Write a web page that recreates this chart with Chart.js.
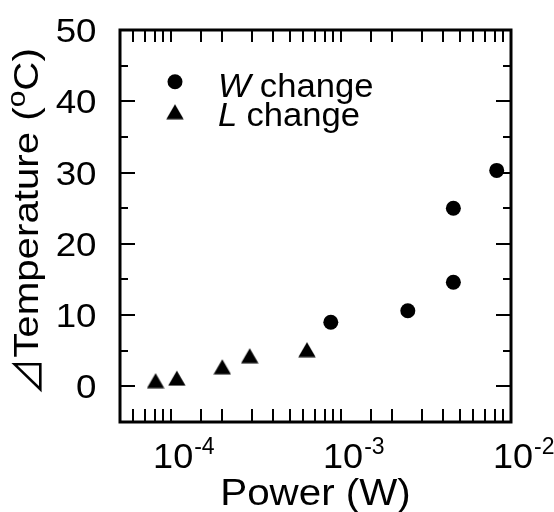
<!DOCTYPE html>
<html>
<head>
<meta charset="utf-8">
<script src="https://cdn.jsdelivr.net/npm/chart.js@4.4.1/dist/chart.umd.min.js"></script>
<style>
  html, body { margin: 0; padding: 0; background: #fff; }
</style>
</head>
<body>
<canvas id="tempChart" width="554" height="512"></canvas>
<script>
// W change: heater power (W) vs temperature rise (°C)
const wPower = [8.7e-4, 2.47e-3, 4.58e-3, 4.58e-3, 8.24e-3];
const wTemp = [9.0, 10.6, 14.6, 25.0, 30.3];

// L change
const lPower = [8.1e-5, 1.08e-4, 2.0e-4, 2.9e-4, 6.3e-4];
const lTemp = [0.8, 1.15, 2.75, 4.3, 5.15];

const seriesNames = ['W', 'L'];

// labelled decades on the power axis, and labelled temperatures
const xTickValues = [1e-4, 1e-3, 1e-2];
const xTickExponents = ['-4', '-3', '-2'];
const yTickValues = [0, 10, 20, 30, 40, 50];

const FONT = "'Liberation Sans', Arial, sans-serif";

// filled triangle marker, centred on its bounding box
function makeTriangle() {
    const c = document.createElement('canvas');
    c.width = 18;
    c.height = 16;
    const g = c.getContext('2d');
    g.fillStyle = '#000';
    g.beginPath();
    g.moveTo(9, 0.5);
    g.lineTo(17.7, 15.5);
    g.lineTo(0.3, 15.5);
    g.closePath();
    g.fill();
    return c;
}
const triangle = makeTriangle();

function toPoints(xs, ys) {
    return xs.map((x, i) => ({ x: x, y: ys[i] }));
}

// text with a slight horizontal stretch
function putText(ctx, str, x, y, font, align, sx) {
    ctx.save();
    ctx.font = font;
    ctx.translate(x, y);
    ctx.scale(sx, 1);
    ctx.textAlign = align;
    ctx.textBaseline = 'alphabetic';
    ctx.fillText(str, 0, 0);
    ctx.restore();
}

const framePlugin = {
    id: 'frame',
    afterDatasetsDraw(chart) {
        const ctx = chart.ctx;
        const a = chart.chartArea;
        const xs = chart.scales.x;
        const ys = chart.scales.y;

        ctx.save();
        ctx.strokeStyle = '#000';
        ctx.fillStyle = '#000';

        // inward tick marks, all four sides
        ctx.lineWidth = 2;
        ctx.beginPath();
        xs.ticks.forEach(t => {
            const px = Math.round(xs.getPixelForValue(t.value));
            if (px <= a.left + 1 || px >= a.right - 1) return;
            ctx.moveTo(px, a.bottom);
            ctx.lineTo(px, a.bottom - 13);
            ctx.moveTo(px, a.top);
            ctx.lineTo(px, a.top + 12);
        });
        ys.ticks.forEach(t => {
            const py = Math.round(ys.getPixelForValue(t.value));
            if (py <= a.top + 1 || py >= a.bottom - 1) return;
            const len = t.value % 10 === 0 ? 15 : 8;
            ctx.moveTo(a.left, py);
            ctx.lineTo(a.left + len, py);
            ctx.moveTo(a.right, py);
            ctx.lineTo(a.right - len, py);
        });
        ctx.stroke();

        // frame
        ctx.lineWidth = 3;
        ctx.strokeRect(a.left, a.top, a.right - a.left, a.bottom - a.top);

        // y tick labels
        yTickValues.forEach(v => {
            const py = ys.getPixelForValue(v);
            putText(ctx, String(v), 96.5, py + 12, '34px ' + FONT, 'right', 1.08);
        });

        // x tick labels: 10 with a raised exponent
        xTickValues.forEach((v, i) => {
            const px = xs.getPixelForValue(v);
            ctx.font = '35px ' + FONT;
            const w10 = ctx.measureText('10').width * 1.03;
            const left = px + 2 - w10 / 2;
            putText(ctx, '10', left, 468, '35px ' + FONT, 'left', 1.03);
            putText(ctx, xTickExponents[i], left + w10 + 1, 454, '23px ' + FONT, 'left', 1.0);
        });

        // x title
        putText(ctx, 'Power (W)', (a.left + a.right) / 2, 505, '36px ' + FONT, 'center', 1.12);

        // y title, rotated
        ctx.save();
        ctx.translate(38, 222);
        ctx.rotate(-Math.PI / 2);
        const sx = 1.15;
        const triFont = "38px 'Noto Sans CJK JP', 'DejaVu Sans', sans-serif";
        ctx.font = triFont;
        const wTri = ctx.measureText('\u22BF').width;
        ctx.font = '35px ' + FONT;
        const wMain = ctx.measureText('Temperature (').width * sx;
        const wC = ctx.measureText('C)').width * sx;
        ctx.font = '26px ' + FONT;
        const wO = ctx.measureText('o').width * sx;
        let x = -(wTri + wMain + wO + wC) / 2;
        ctx.font = triFont;
        ctx.textBaseline = 'alphabetic';
        ctx.fillText('\u22BF', x, 3);
        x += wTri;
        putText(ctx, 'Temperature (', x, 0, '35px ' + FONT, 'left', sx);
        x += wMain;
        putText(ctx, 'o', x, -13, '26px ' + FONT, 'left', sx);
        x += wO;
        putText(ctx, 'C)', x, 0, '35px ' + FONT, 'left', sx);
        ctx.restore();

        // legend
        const rows = [
            { y: 81.7, base: 96.7, style: 'circle' },
            { y: 111.7, base: 126, style: 'triangle' }
        ];
        rows.forEach((r, i) => {
            if (r.style === 'circle') {
                ctx.beginPath();
                ctx.arc(175, r.y, 7.5, 0, Math.PI * 2);
                ctx.fill();
            } else {
                ctx.drawImage(triangle, 175 - triangle.width / 2, r.y - triangle.height / 2);
            }
            ctx.font = 'italic 33px ' + FONT;
            const wName = ctx.measureText(seriesNames[i]).width * 1.05;
            putText(ctx, seriesNames[i], 218, r.base, 'italic 33px ' + FONT, 'left', 1.05);
            ctx.font = '33px ' + FONT;
            const gap = ctx.measureText(' ').width;
            putText(ctx, 'change', 218 + wName + gap, r.base, '33px ' + FONT, 'left', 1.05);
        });

        ctx.restore();
    }
};

new Chart(document.getElementById('tempChart'), {
    type: 'scatter',
    data: {
        datasets: [
            {
                label: 'W change',
                data: toPoints(wPower, wTemp),
                pointStyle: 'circle',
                pointRadius: 7.5,
                backgroundColor: '#000',
                borderWidth: 0
            },
            {
                label: 'L change',
                data: toPoints(lPower, lTemp),
                pointStyle: triangle,
                pointRadius: 9,
                backgroundColor: '#000',
                borderWidth: 0
            }
        ]
    },
    options: {
        responsive: false,
        animation: false,
        devicePixelRatio: 1,
        layout: { padding: { left: 120, top: 30, right: 43, bottom: 90 } },
        plugins: {
            legend: { display: false },
            tooltip: { enabled: false }
        },
        scales: {
            x: {
                type: 'logarithmic',
                min: 5e-5,
                max: 1e-2,
                grid: { display: false, drawTicks: false },
                border: { display: false },
                ticks: { display: false }
            },
            y: {
                type: 'linear',
                min: -5,
                max: 50,
                grid: { display: false, drawTicks: false },
                border: { display: false },
                ticks: { display: false, stepSize: 5 }
            }
        }
    },
    plugins: [framePlugin]
});
</script>
</body>
</html>
